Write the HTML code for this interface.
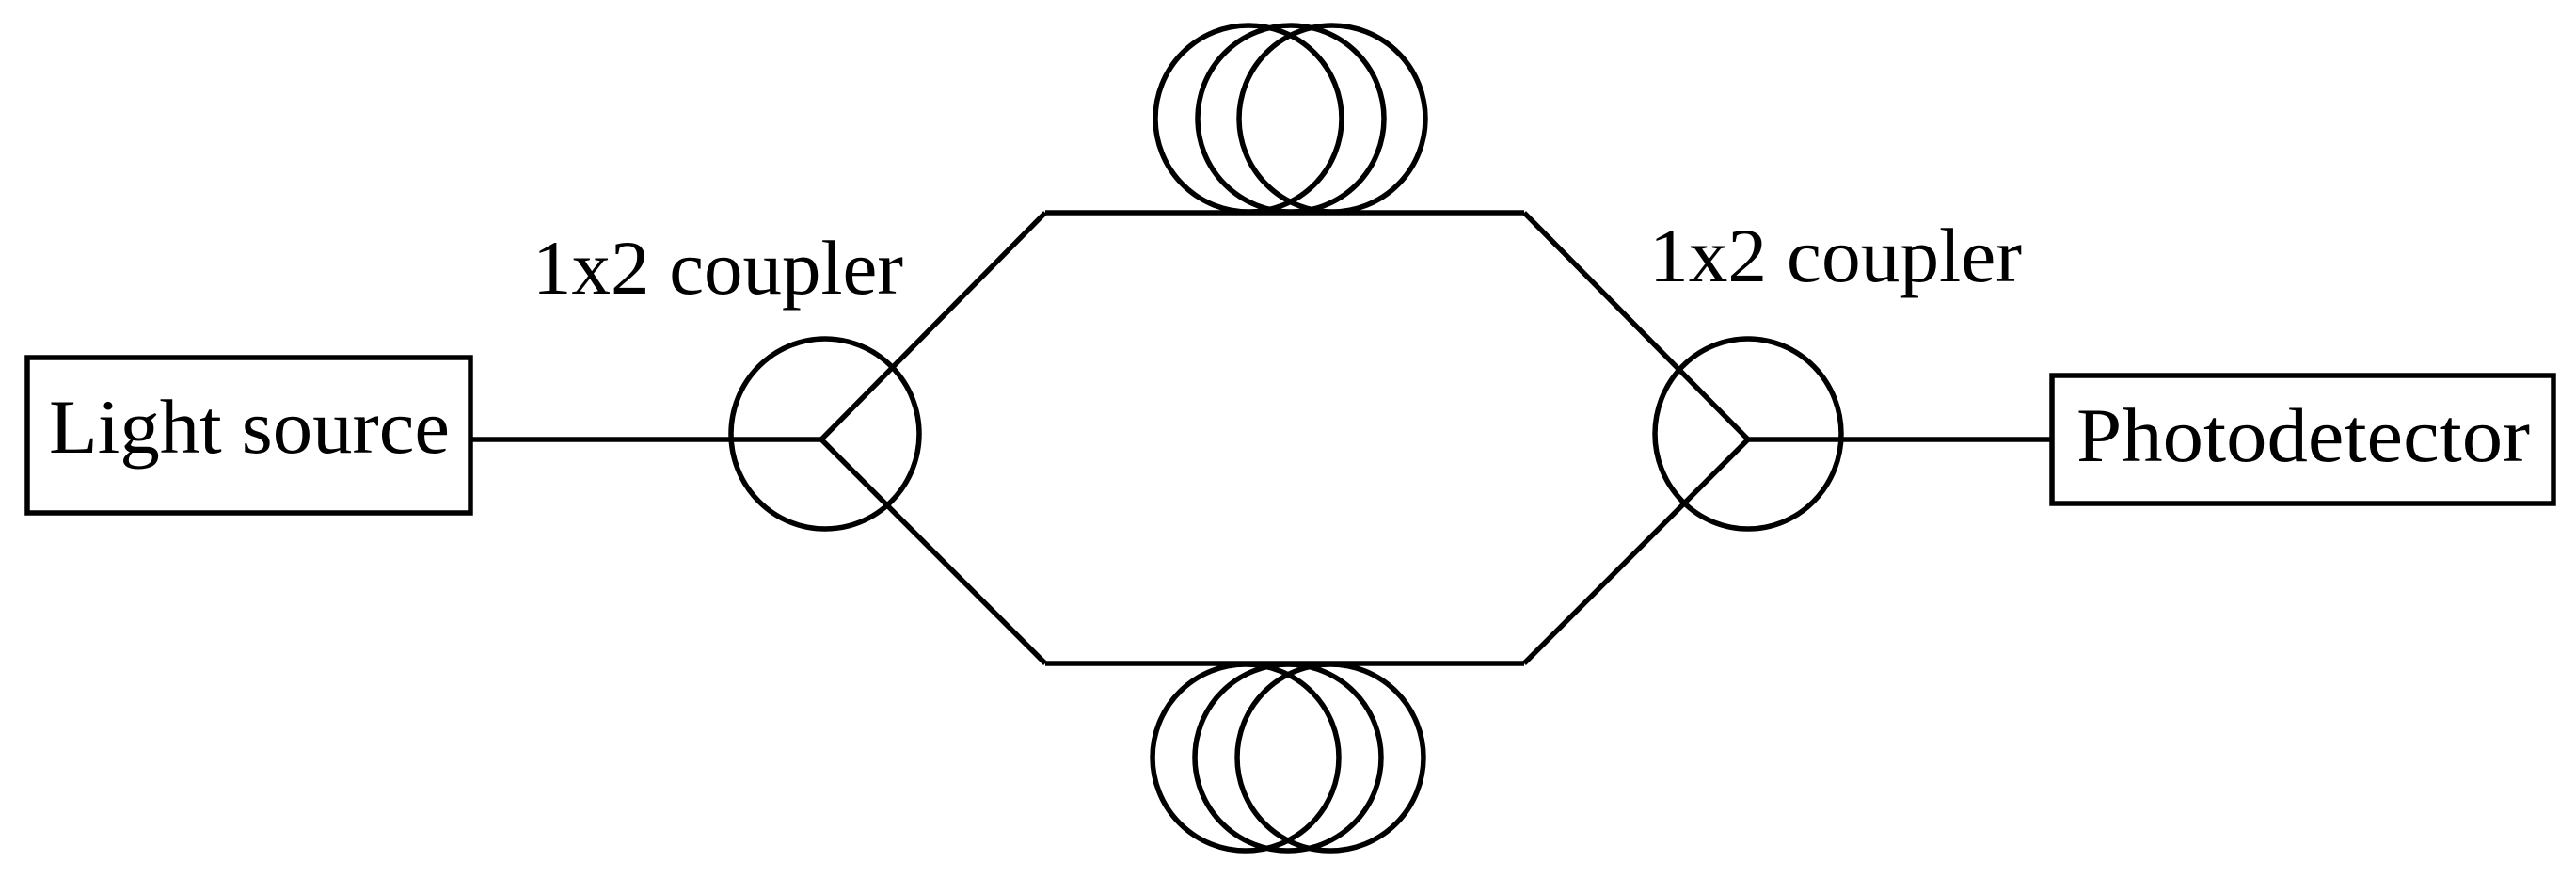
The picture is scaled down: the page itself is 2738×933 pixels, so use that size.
<!DOCTYPE html>
<html><head><style>html,body{margin:0;padding:0;background:#fff}svg{display:block}</style></head>
<body>
<svg width="2738" height="933" viewBox="0 0 2738 933" xmlns="http://www.w3.org/2000/svg">
<g fill="none" stroke="#000" stroke-width="5.5">
<rect x="29" y="380" width="471" height="165"/>
<rect x="2181" y="399" width="533" height="136"/>
<line x1="500" y1="467" x2="873" y2="467"/>
<polyline points="1111,226 873,467 1111,705"/>
<line x1="1111" y1="226" x2="1620" y2="226"/>
<line x1="1111" y1="705" x2="1620" y2="705"/>
<polyline points="1620,226 1858,467 1620,705"/>
<line x1="1858" y1="467" x2="2181" y2="467"/>
<ellipse cx="877" cy="461" rx="100" ry="101"/>
<ellipse cx="1858" cy="461" rx="99" ry="101"/>
<circle cx="1327" cy="126" r="99"/>
<circle cx="1372" cy="126" r="99"/>
<circle cx="1416" cy="126" r="99"/>
<circle cx="1324" cy="805" r="99"/>
<circle cx="1369" cy="805" r="99"/>
<circle cx="1414" cy="805" r="99"/>
</g>
<g font-family="Liberation Serif, serif" font-size="82" fill="#000">
<text x="52" y="481" textLength="426" lengthAdjust="spacingAndGlyphs">Light source</text>
<text x="2207" y="490" textLength="482" lengthAdjust="spacingAndGlyphs">Photodetector</text>
<text x="566" y="312" textLength="394" lengthAdjust="spacingAndGlyphs">1x2 coupler</text>
<text x="1753" y="299" textLength="396" lengthAdjust="spacingAndGlyphs">1x2 coupler</text>
</g>
</svg>
</body></html>
